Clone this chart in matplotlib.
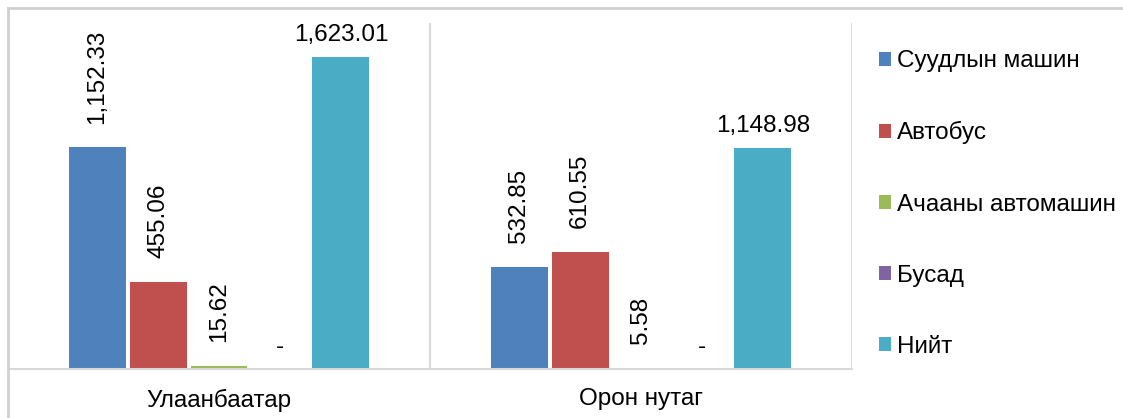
import matplotlib as mpl
import matplotlib.pyplot as plt
from matplotlib.lines import Line2D

categories = ['Улаанбаатар', 'Орон нутаг']
series_names = ['Суудлын машин', 'Автобус', 'Ачааны автомашин', 'Бусад', 'Нийт']
series_values = [
    [1152.33, 532.85],
    [455.06, 610.55],
    [15.62, 5.58],
    [0, 0],
    [1623.01, 1148.98],
]
colors = ['#4F81BD', '#C0504D', '#9BBB59', '#8064A2', '#4BACC6']

mpl.rcParams['font.family'] = ['Liberation Sans', 'DejaVu Sans']

dpi = 100
fig = plt.figure(dpi=dpi, figsize=(1123 / dpi, 418 / dpi))
ax = fig.add_axes([8 / 1123, 49 / 418, 844 / 1123, 346 / 418])

step = 0.1445
width = 0.135
xs = range(len(categories))

for i, (name, vals, c) in enumerate(zip(series_names, series_values, colors)):
    pos = [x + (i - 2) * step for x in xs]
    ax.bar(pos, vals, width=width, color=c, label=name, zorder=2)
    for p, v in zip(pos, vals):
        if v == 0:
            ax.annotate('-', (p, v), xytext=(0, 16), textcoords='offset points',
                        ha='center', va='center', fontsize=17.5)
        elif i == len(series_names) - 1:
            # totals are written flat
            ax.annotate(f'{v:,.2f}', (p, v), xytext=(0, 16),
                        textcoords='offset points', ha='center', va='center',
                        fontsize=17.5)
        else:
            ax.annotate(f'{v:,.2f}', (p, v), xytext=(0, 17),
                        textcoords='offset points', ha='center', va='bottom',
                        rotation=90, fontsize=17.5)

ax.set_xlim(-0.5, 1.5)
ax.set_ylim(0, 1800)
ax.set_yticks([])
ax.set_xticks(list(xs))
ax.set_xticklabels(categories, fontsize=17.5)
ax.tick_params(axis='x', length=0, pad=14)
for s in ['left', 'right', 'top']:
    ax.spines[s].set_visible(False)
ax.spines['bottom'].set_color('#D9D9D9')
ax.spines['bottom'].set_linewidth(1.5)
for xv in [0.5, 1.5]:
    ax.axvline(xv, color='#D9D9D9', linewidth=1.5, zorder=1)

# outer chart border
fig.add_artist(Line2D([8 / 1123, 1], [1 - 8 / 418, 1 - 8 / 418],
                      color='#D0D0D0', linewidth=2, transform=fig.transFigure))
fig.add_artist(Line2D([8 / 1123, 8 / 1123], [0, 1 - 8 / 418],
                      color='#D0D0D0', linewidth=2, transform=fig.transFigure))

fig.legend(loc='center left', bbox_to_anchor=(879 / 1123, 0.512),
           frameon=False, fontsize=17.5, handlelength=0.5, handleheight=0.5,
           handletextpad=0.25, labelspacing=2.02, borderpad=0,
           borderaxespad=0)

fig.savefig('out.png')
